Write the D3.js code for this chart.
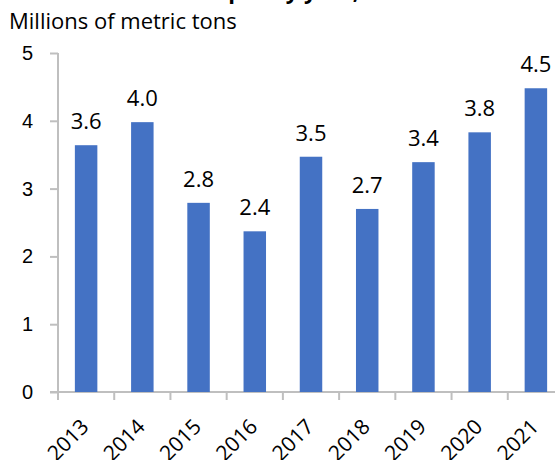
<!DOCTYPE html>
<html>
<head>
<meta charset="utf-8">
<script src="https://cdn.jsdelivr.net/npm/d3@7"></script>
<style>
  body { margin: 0; background: #fff; overflow: hidden; }
  svg { display: block; font-family: "Open Sans", "Noto Sans", sans-serif; }
</style>
</head>
<body>
<div id="chart"></div>
<script>
"use strict";

//
//   DATA
//

var years = ["2013", "2014", "2015", "2016", "2017", "2018", "2019", "2020", "2021"];
var tons = [3.64, 3.98, 2.79, 2.37, 3.47, 2.70, 3.39, 3.83, 4.48];
var yTicks = [0, 1, 2, 3, 4, 5];

var WIDTH = 555;
var HEIGHT = 460;
var BAR_COLOR = "#4472c4";
var AXIS_COLOR = "#bfbfbf";

//
//   SET UP CHART
//

var svg = d3.select("#chart").append("svg")
    .attr("width", WIDTH)
    .attr("height", HEIGHT);

// plot area runs a bit past the right edge, like the original
var scaleX = d3.scaleBand().domain(years).range([58, 564]).paddingInner(0.6).paddingOuter(0.3);
var scaleY = d3.scaleLinear().domain([0, 5]).range([392, 53]);

// title, cut off at the top in the original
svg.append("text")
    .attr("x", 28)
    .attr("y", -1)
    .style("font-size", "22px")
    .style("font-weight", "bold")
    .attr("fill", "#000")
    .text("Processed fish output by year, 2013–2021");

// unit label
svg.append("text")
    .attr("x", 9)
    .attr("y", 29)
    .style("font-size", "22px")
    .attr("fill", "#000")
    .text("Millions of metric tons");

// y axis
var yAxis = svg.append("g")
    .attr("transform", "translate(58,0)")
    .call(d3.axisLeft(scaleY).tickValues(yTicks).tickFormat(d3.format("d")).tickSize(8).tickPadding(17));

yAxis.select(".domain").attr("d", "M0," + scaleY(5) + "V" + scaleY(0));

// x axis with ticks between the bands
var step = scaleX.step();
var left = scaleX.range()[0];
var xAxis = svg.append("g").attr("transform", "translate(0," + scaleY(0) + ")");

xAxis.append("path")
    .attr("class", "domain")
    .attr("d", "M50,0H" + WIDTH);

years.forEach(function (year, i) {
    xAxis.append("line")
        .attr("x1", left + step * i)
        .attr("x2", left + step * i)
        .attr("y1", 0)
        .attr("y2", 8);
});

xAxis.selectAll("text.year").data(years).enter().append("text")
    .attr("class", "year")
    .attr("transform", function (d) {
        return "translate(" + (scaleX(d) + scaleX.bandwidth() / 2 + 4) + ",36) rotate(-45)";
    })
    .attr("text-anchor", "end")
    .style("font-size", "21px")
    .attr("fill", "#000")
    .text(function (d) { return d; });

svg.selectAll(".domain, g line")
    .attr("stroke", AXIS_COLOR)
    .attr("stroke-width", 2)
    .attr("fill", "none");

yAxis.selectAll("text")
    .style("font-size", "20px")
    .attr("fill", "#000");

// bars
svg.selectAll("rect.bar").data(tons).enter().append("rect")
    .attr("class", "bar")
    .attr("x", function (d, i) { return scaleX(years[i]); })
    .attr("y", function (d) { return scaleY(d); })
    .attr("width", scaleX.bandwidth())
    .attr("height", function (d) { return scaleY(0) - scaleY(d); })
    .attr("fill", BAR_COLOR);

// value labels
svg.selectAll("text.value").data(tons).enter().append("text")
    .attr("class", "value")
    .attr("x", function (d, i) { return scaleX(years[i]) + scaleX.bandwidth() / 2; })
    .attr("y", function (d) { return scaleY(d) - 16; })
    .attr("text-anchor", "middle")
    .style("font-size", "22px")
    .attr("fill", "#000")
    .text(function (d) { return d3.format(".1f")(d); });
</script>
</body>
</html>
